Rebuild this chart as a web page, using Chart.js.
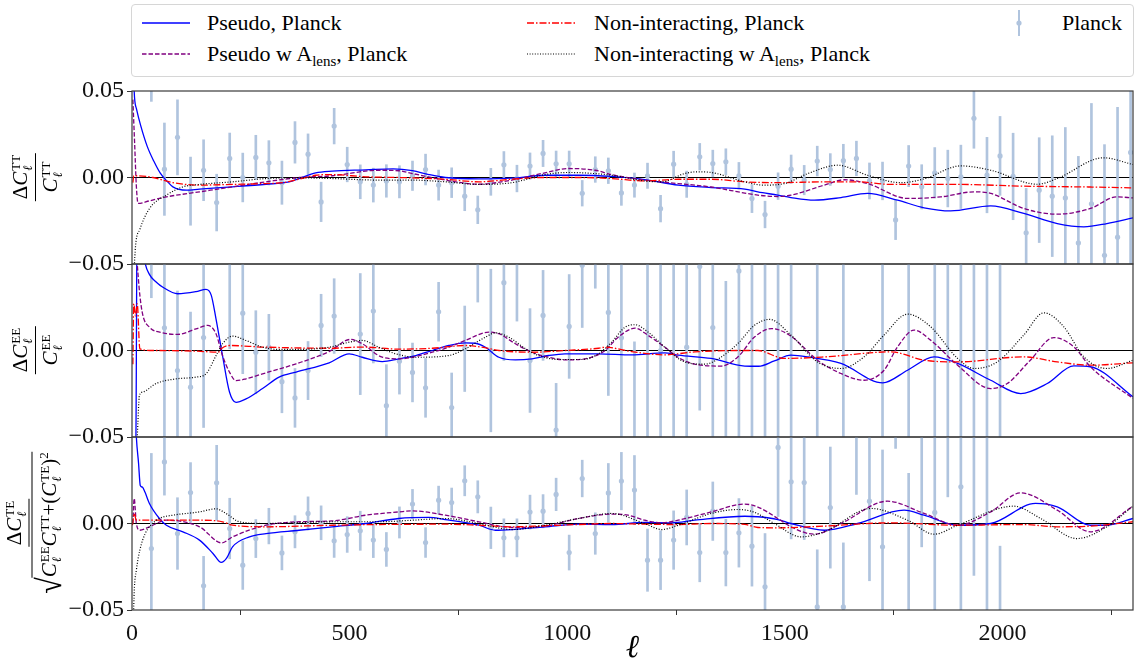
<!DOCTYPE html>
<html><head><meta charset="utf-8">
<script src="https://cdn.jsdelivr.net/npm/chart.js@4/dist/chart.umd.min.js"></script>
<style>
html,body{margin:0;padding:0;background:#fff;}
body{width:1137px;height:664px;position:relative;overflow:hidden;font-family:"Liberation Serif",serif;}
canvas{position:absolute;left:0;}
.legend{position:absolute;left:131px;top:4px;width:1003px;height:73px;border:1px solid #d6d6d6;border-radius:4px;box-sizing:border-box;background:#fff;z-index:2;}
.li{position:absolute;font-size:22px;line-height:22px;white-space:nowrap;color:#000;z-index:3;}
.li sub{font-size:15px;vertical-align:-5px;line-height:0;}
svg.smp{position:absolute;z-index:3;overflow:visible;}
.ylab{position:absolute;transform:translate(-50%,-50%) rotate(-90deg);font-size:21px;color:#000;white-space:nowrap;z-index:3;}
.frac{display:inline-flex;flex-direction:column;align-items:center;}
.num{border-bottom:1.3px solid #000;padding:0 2px 1px;}
.den{padding:2px 2px 0;}
.C{font-style:italic;}
.ss{display:inline-block;font-size:13px;line-height:12px;vertical-align:-5px;margin-left:1px;}
.ss span{display:block;}
.ss .l{font-style:italic;}
.sq2{font-size:13px;vertical-align:8px;}
.rad{font-size:30px;vertical-align:-4px;display:inline-block;transform:scaleY(1.15);}
.under{display:inline-block;border-top:1.3px solid #000;padding-top:3px;}
</style>
</head><body>

<div class="legend"></div>
<svg class="smp" style="left:140px;top:13px" width="52" height="20"><line x1="2" y1="10" x2="50" y2="10" stroke="#0000ff" stroke-width="1.5"/></svg>
<div class="li" style="left:207px;top:12px">Pseudo, Planck</div>
<svg class="smp" style="left:140px;top:44px" width="52" height="20"><line x1="2" y1="10" x2="50" y2="10" stroke="#800080" stroke-width="1.5" stroke-dasharray="4.5,2"/></svg>
<div class="li" style="left:207px;top:43px">Pseudo w A<sub>lens</sub>, Planck</div>
<svg class="smp" style="left:525px;top:13px" width="52" height="20"><line x1="2" y1="10" x2="50" y2="10" stroke="#ff0000" stroke-width="1.5" stroke-dasharray="7,2,1.5,2"/></svg>
<div class="li" style="left:594px;top:12px">Non-interacting, Planck</div>
<svg class="smp" style="left:525px;top:44px" width="52" height="20"><line x1="2" y1="10" x2="50" y2="10" stroke="#000" stroke-width="1.2" stroke-dasharray="1,1.6"/></svg>
<div class="li" style="left:594px;top:43px">Non-interacting w A<sub>lens</sub>, Planck</div>
<svg class="smp" style="left:1009px;top:9px" width="20" height="30"><line x1="10" y1="1" x2="10" y2="27" stroke="#b0c4de" stroke-width="2"/><circle cx="10" cy="14" r="2.6" fill="#b0c4de"/></svg>
<div class="li" style="left:1062px;top:12px">Planck</div>

<div class="ylab" style="left:36px;top:177px"><div class="frac"><div class="num">Δ<span class="C">C</span><span class="ss"><span>TT</span><span class="l">ℓ</span></span></div><div class="den"><span class="C">C</span><span class="ss"><span>TT</span><span class="l">ℓ</span></span></div></div></div>
<div class="ylab" style="left:36px;top:350px"><div class="frac"><div class="num">Δ<span class="C">C</span><span class="ss"><span>EE</span><span class="l">ℓ</span></span></div><div class="den"><span class="C">C</span><span class="ss"><span>EE</span><span class="l">ℓ</span></span></div></div></div>
<div class="ylab" style="left:34px;top:523px"><div class="frac"><div class="num">Δ<span class="C">C</span><span class="ss"><span>TE</span><span class="l">ℓ</span></span></div><div class="den"><span class="rad">√</span><span class="under"><span class="C">C</span><span class="ss"><span>EE</span><span class="l">ℓ</span></span><span class="C">C</span><span class="ss"><span>TT</span><span class="l">ℓ</span></span>+(<span class="C">C</span><span class="ss"><span>TE</span><span class="l">ℓ</span></span>)<span class="sq2">2</span></span></div></div></div>

<canvas id="cTT" width="1137" height="213" style="top:71px"></canvas>
<canvas id="cEE" width="1137" height="213" style="top:244px"></canvas>
<canvas id="cTE" width="1137" height="255" style="top:417px"></canvas>

<script>
// ---------------- data ----------------
const xTicks = [0, 500, 1000, 1500, 2000];
const yTicks = [-0.05, 0, 0.05];

const planckL = [44.5, 74.5, 104.5, 134.5, 164.5, 194.5, 224.5, 254.5, 284.5, 314.5, 344.5, 374.5, 404.5, 434.5, 464.5, 494.5, 524.5, 554.5, 584.5, 614.5, 644.5, 674.5, 704.5, 734.5, 764.5, 794.5, 824.5, 854.5, 884.5, 914.5, 944.5, 974.5, 1004.5, 1034.5, 1064.5, 1094.5, 1124.5, 1154.5, 1184.5, 1214.5, 1244.5, 1274.5, 1304.5, 1334.5, 1364.5, 1394.5, 1424.5, 1454.5, 1484.5, 1514.5, 1544.5, 1574.5, 1604.5, 1634.5, 1664.5, 1694.5, 1724.5, 1754.5, 1784.5, 1814.5, 1844.5, 1874.5, 1904.5, 1934.5, 1964.5, 1994.5, 2024.5, 2054.5, 2084.5, 2114.5, 2144.5, 2174.5, 2204.5, 2234.5, 2264.5, 2294.5];

const ttVal = [0.065, 0.0048, 0.0232, -0.0079, 0.0042, -0.0145, 0.011, 0.0, 0.0116, 0.0085, -0.003, 0.0203, 0.0135, -0.0141, 0.0297, 0.0075, -0.0025, -0.0044, -0.002, -0.0025, 0.001, 0.0046, -0.0044, -0.003, -0.0108, -0.0187, -0.0025, 0.0073, -0.0006, 0.0066, 0.0139, 0.0079, 0.0079, -0.0091, 0.0046, 0.0039, -0.0089, -0.0044, 0.001, -0.018, 0.0077, -0.0039, 0.012, 0.0081, 0.0091, 0.001, -0.0122, -0.0214, -0.005, 0.0048, -0.0015, 0.0095, 0.0046, 0.0097, 0.011, -0.002, -0.002, -0.0245, 0.0066, -0.0054, 0.0027, -0.0006, 0.0004, 0.0342, 0.0014, 0.0125, 0.0006, -0.032, -0.0073, -0.0108, -0.0118, -0.0378, -0.0152, -0.045, -0.0345, 0.0145];
const ttErr = [0.021, 0.0267, 0.0217, 0.0197, 0.0176, 0.0164, 0.0147, 0.0141, 0.0128, 0.0128, 0.0125, 0.012, 0.0117, 0.0114, 0.0103, 0.010, 0.0098, 0.0098, 0.0094, 0.0093, 0.0085, 0.0089, 0.0087, 0.0086, 0.0084, 0.008, 0.0078, 0.0077, 0.0077, 0.0076, 0.0076, 0.0074, 0.0074, 0.0074, 0.0074, 0.0074, 0.0072, 0.007, 0.0073, 0.0077, 0.0075, 0.0076, 0.0077, 0.0077, 0.0075, 0.0077, 0.0081, 0.0077, 0.0077, 0.0082, 0.0085, 0.0086, 0.0092, 0.0095, 0.010, 0.0104, 0.0109, 0.0114, 0.0119, 0.0128, 0.0146, 0.0164, 0.0183, 0.0173, 0.0218, 0.0228, 0.025, 0.0257, 0.0303, 0.0349, 0.0407, 0.05, 0.058, 0.064, 0.075, 0.08];

const eeVal = [0.07, 0.0131, -0.0116, -0.0212, 0.0075, -0.1, 0.055, 0.0216, -0.001, 0.0019, -0.018, -0.0274, -0.0116, 0.0145, 0.0199, 0.08, 0.0095, 0.0228, -0.0319, -0.0062, -0.0127, -0.0216, 0.0224, -0.033, 0.001, 0.06, 0.0, 0.0392, 0.06, -0.0058, 0.0203, -0.046, 0.0139, 0.0493, 0.07, 0.022, 0.0073, -0.06, 0.06, 0.0, 0.06, 0.0019, 0.0485, 0.0133, -0.06, 0.046, 0.07, 0.07, -0.07, 0.07, 0.25, -0.07, -0.25, 0.07, 0.25, -0.25, -0.08, 0.3, 0.08, -0.3, 0.08, -0.08, 0.09, -0.09, 0.09, -0.09, 0.35, -0.35, 0.35, -0.35, 0.35, -0.35, 0.35, -0.35, 0.35, -0.35];
const eeErr = [0.0395, 0.07, 0.046, 0.0434, 0.052, 0.04, 0.054, 0.035, 0.024, 0.019, 0.018, 0.017, 0.0168, 0.018, 0.0216, 0.025, 0.035, 0.03, 0.0237, 0.019, 0.017, 0.017, 0.017, 0.02, 0.0247, 0.032, 0.047, 0.045, 0.043, 0.03, 0.026, 0.027, 0.03, 0.036, 0.034, 0.048, 0.07, 0.065, 0.12, 0.07, 0.12, 0.065, 0.083, 0.07, 0.1, 0.1, 0.13, 0.13, 0.13, 0.13, 0.1, 0.14, 0.1, 0.14, 0.12, 0.12, 0.15, 0.12, 0.15, 0.13, 0.16, 0.16, 0.17, 0.17, 0.18, 0.18, 0.2, 0.2, 0.2, 0.2, 0.2, 0.2, 0.2, 0.2, 0.2, 0.2];

const teVal = [-0.0145, 0.0356, -0.0058, 0.0179, -0.036, 0.0235, -0.0029, -0.0241, -0.0087, -0.0015, -0.017, -0.0048, 0.0058, 0.0004, -0.01, -0.0064, -0.0042, -0.0096, -0.015, 0.0006, 0.0112, -0.011, 0.0135, 0.0121, 0.0247, 0.0154, -0.0025, -0.0083, -0.0083, 0.0066, 0.0071, 0.0168, -0.0168, 0.026, -0.0058, 0.0177, 0.0245, 0.0193, -0.0212, -0.0212, -0.0096, 0.0035, -0.0168, 0.0071, -0.0168, -0.0054, -0.0131, -0.0366, 0.044, 0.0241, 0.0237, -0.0482, 0.0092, -0.0482, 0.06, 0.0129, -0.0135, 0.09, -0.052, 0.055, 0.0064, 0.07, 0.0212, 0.06, 0.07, -0.07, 0.2, -0.2, 0.2, -0.2, 0.2, -0.2, 0.2, -0.2, 0.2, -0.2];
const teErr = [0.055, 0.0192, 0.0207, 0.0173, 0.017, 0.0217, 0.0175, 0.014, 0.011, 0.0103, 0.0098, 0.0093, 0.0096, 0.0098, 0.0096, 0.0103, 0.0113, 0.0101, 0.0098, 0.009, 0.0085, 0.0086, 0.0081, 0.0084, 0.0087, 0.0093, 0.012, 0.011, 0.011, 0.0098, 0.0096, 0.0094, 0.0101, 0.0106, 0.012, 0.017, 0.0166, 0.02, 0.018, 0.017, 0.0169, 0.0159, 0.0169, 0.0169, 0.0193, 0.0198, 0.0231, 0.0308, 0.04, 0.033, 0.033, 0.033, 0.035, 0.037, 0.0432, 0.046, 0.056, 0.0466, 0.081, 0.0685, 0.065, 0.0546, 0.075, 0.09, 0.13, 0.0569, 0.08, 0.08, 0.08, 0.08, 0.08, 0.08, 0.08, 0.08, 0.08, 0.08];

// theory curves: [ell, value]
const ttPseudo = [[2,0.09],[5,0.05],[10,0.04],[20,0.03],[35,0.018],[50,0.0095],[65,0.0025],[80,-0.002],[94,-0.0054],[125,-0.0073],[155,-0.0067],[231,-0.0054],[308,-0.0039],[361,-0.0025],[384,-0.0006],[422,0.0027],[460,0.0037],[537,0.0044],[600,0.005],[644,0.004],[682,0.0017],[720,0.0],[797,-0.0008],[873,-0.0004],[949,0.0013],[1026,0.0013],[1102,0.0006],[1178,-0.0012],[1255,-0.0044],[1331,-0.0058],[1408,-0.0067],[1438,-0.0083],[1484,-0.0102],[1514,-0.0116],[1568,-0.0131],[1629,-0.0116],[1690,-0.0092],[1759,-0.0131],[1820,-0.0175],[1881,-0.0193],[1973,-0.0164],[2049,-0.0208],[2126,-0.0266],[2187,-0.0285],[2240,-0.0266],[2300,-0.0233]];
const ttPseudoAlens = [[2,0.045],[6,0.02],[10,-0.005],[14,-0.015],[40,-0.0135],[79,-0.0112],[155,-0.0083],[231,-0.0054],[308,-0.0025],[384,0.0],[460,0.001],[567,0.0042],[613,0.0039],[644,0.0023],[720,-0.0015],[797,-0.0039],[873,-0.0015],[949,0.0027],[1003,0.0052],[1064,0.0042],[1102,0.0017],[1178,-0.0015],[1255,-0.0035],[1331,-0.0055],[1408,-0.009],[1438,-0.0102],[1484,-0.011],[1514,-0.0102],[1591,-0.0044],[1637,-0.0013],[1690,-0.0035],[1782,-0.0121],[1858,-0.0112],[1935,-0.0083],[1973,-0.0092],[2049,-0.0179],[2126,-0.0212],[2202,-0.0179],[2263,-0.0112],[2300,-0.0118]];
const ttNonint = [[2,-0.003],[4,0.001],[10,0.001],[48,0.0],[94,-0.003],[155,-0.0044],[231,-0.004],[308,-0.0035],[346,-0.003],[384,-0.001],[422,0.0013],[460,0.0017],[537,0.0004],[613,0.0],[720,-0.001],[797,-0.0025],[873,-0.001],[949,0.0],[1026,0.0],[1102,-0.0006],[1178,-0.002],[1255,-0.001],[1331,-0.001],[1408,-0.0025],[1484,-0.003],[1591,-0.0025],[1667,-0.0025],[1743,-0.004],[1897,-0.004],[2049,-0.005],[2202,-0.0055],[2300,-0.006]];
const ttNonintAlens = [[2,-0.07],[8,-0.04],[18,-0.03],[40,-0.018],[79,-0.0102],[117,-0.0054],[155,-0.004],[231,-0.0025],[308,-0.0006],[384,-0.0002],[460,-0.0006],[567,-0.0015],[644,-0.0015],[720,-0.0025],[797,-0.004],[873,-0.003],[949,0.0017],[1003,0.0029],[1102,0.0013],[1178,-0.002],[1217,-0.0025],[1270,0.0023],[1300,0.0033],[1331,0.0029],[1408,-0.0025],[1450,-0.0044],[1499,-0.0035],[1553,0.0023],[1622,0.0071],[1690,0.0013],[1767,-0.003],[1820,-0.0008],[1904,0.0067],[1973,0.0042],[2080,-0.0039],[2126,-0.0006],[2232,0.0114],[2300,0.0075]];

const eePseudo = [[2,-0.09],[9,-0.05],[12,0.09],[29,0.052],[40,0.044],[56,0.0395],[71,0.0366],[105,0.0328],[147,0.034],[170,0.0353],[182,0.032],[193,0.0183],[208,-0.003],[224,-0.024],[239,-0.03],[262,-0.028],[300,-0.022],[338,-0.0154],[377,-0.0125],[453,-0.0071],[499,-0.0019],[529,-0.0039],[575,-0.0064],[613,-0.0048],[652,-0.0029],[690,0.0],[728,0.0029],[766,0.0044],[789,0.0042],[812,0.0019],[843,-0.0039],[881,-0.0054],[919,-0.0048],[957,-0.0029],[995,-0.0019],[1072,-0.0019],[1148,-0.0025],[1224,-0.0014],[1255,-0.0027],[1331,-0.0046],[1408,-0.009],[1440,-0.0091],[1476,-0.006],[1514,-0.0027],[1553,-0.0037],[1629,-0.0075],[1725,-0.0187],[1782,-0.0114],[1843,-0.0037],[1897,-0.0075],[1973,-0.0172],[2042,-0.0249],[2103,-0.0191],[2164,-0.0089],[2202,-0.0094],[2300,-0.0268]];
const eePseudoAlens = [[2,0.09],[6,0.07],[12,0.05],[18,0.032],[25,0.0203],[40,0.0135],[71,0.0102],[105,0.0093],[147,0.0125],[174,0.0145],[193,0.0097],[208,-0.003],[224,-0.0125],[239,-0.0174],[262,-0.0164],[300,-0.0135],[377,-0.0077],[453,-0.0006],[502,0.0064],[529,0.0039],[575,-0.0039],[613,-0.0048],[690,-0.001],[728,0.0019],[766,0.0058],[820,0.0106],[843,0.0097],[881,0.0039],[919,-0.001],[957,-0.0039],[995,-0.0054],[1041,-0.0048],[1087,0.0],[1117,0.0077],[1156,0.0129],[1186,0.0087],[1224,0.002],[1255,-0.004],[1293,-0.0079],[1354,-0.009],[1392,-0.0037],[1431,0.0079],[1470,0.0127],[1514,0.0083],[1575,-0.0056],[1629,-0.0133],[1682,-0.0172],[1728,-0.0114],[1759,0.0021],[1797,0.0118],[1835,0.006],[1897,-0.0085],[1973,-0.022],[2011,-0.0191],[2064,-0.0056],[2118,0.0075],[2164,0.0021],[2202,-0.0094],[2300,-0.0277]];
const eeNonint = [[2,-0.008],[4,0.027],[8,0.02],[12,0.027],[18,0.001],[50,0.0],[150,-0.0004],[199,-0.001],[205,0.001],[224,0.0029],[300,0.002],[453,0.0013],[529,0.002],[613,0.0008],[690,0.0013],[766,0.0029],[804,0.0019],[843,0.0],[919,-0.001],[995,0.0],[1072,0.0013],[1087,0.0019],[1148,-0.0006],[1224,-0.0025],[1293,-0.0008],[1392,0.0],[1438,0.0],[1499,-0.0046],[1591,-0.0037],[1744,-0.0008],[1820,-0.0056],[1897,-0.0066],[2049,-0.0037],[2126,-0.0066],[2202,-0.0085],[2300,-0.0071]];
const eeNonintAlens = [[2,-0.08],[12,-0.05],[17,-0.026],[25,-0.024],[56,-0.019],[101,-0.0164],[147,-0.0154],[170,-0.0135],[193,-0.003],[208,0.0039],[231,0.0083],[262,0.0058],[300,0.0019],[338,0.0006],[377,0.0006],[453,0.0019],[499,0.0048],[529,0.0058],[567,0.0019],[606,-0.0019],[652,-0.0039],[728,-0.0029],[766,0.001],[812,0.0077],[835,0.0102],[866,0.0077],[904,0.001],[934,-0.0029],[980,-0.0052],[1033,-0.0052],[1072,-0.0019],[1102,0.0048],[1133,0.0135],[1156,0.0149],[1186,0.0106],[1224,0.0019],[1270,-0.0066],[1316,-0.0079],[1354,-0.0037],[1392,0.004],[1431,0.0147],[1465,0.018],[1514,0.0089],[1575,-0.0066],[1629,-0.0104],[1682,-0.0037],[1728,0.0089],[1782,0.021],[1835,0.0137],[1897,-0.0046],[1935,-0.0104],[1988,-0.0066],[2049,0.0089],[2095,0.0218],[2141,0.0137],[2187,-0.0037],[2240,-0.0104],[2300,-0.0056]];

const tePseudo = [[2,0.1],[10,0.05],[15,0.035],[19,0.022],[24,0.021],[30,0.018],[40,0.0116],[63,0.0029],[79,-0.001],[117,-0.0048],[155,-0.0096],[186,-0.0173],[205,-0.0225],[217,-0.0202],[231,-0.0135],[270,-0.0077],[308,-0.0058],[384,-0.0039],[460,-0.0019],[537,0.0],[613,0.0029],[682,0.0035],[720,0.0023],[797,-0.001],[835,-0.0039],[873,-0.0035],[949,-0.0019],[1026,-0.0004],[1102,-0.0006],[1178,0.0006],[1240,0.0004],[1293,0.0019],[1408,0.0042],[1438,0.0039],[1484,0.0023],[1514,0.0],[1591,-0.0039],[1667,0.0],[1774,0.0077],[1820,0.0048],[1897,-0.001],[1973,0.0],[2076,0.0116],[2126,0.0096],[2202,-0.001],[2240,-0.001],[2300,0.0029]];
const tePseudoAlens = [[2,0.0],[5,0.0145],[10,0.0],[18,-0.0039],[40,-0.0019],[79,0.0019],[155,-0.0019],[206,-0.0112],[231,-0.0077],[308,-0.001],[384,0.001],[460,0.0015],[537,0.0048],[613,0.0067],[644,0.0073],[720,0.0048],[797,0.001],[873,-0.0023],[949,-0.0015],[1026,0.0029],[1102,0.0054],[1140,0.0048],[1178,0.0019],[1217,0.0004],[1255,0.0019],[1331,0.0067],[1408,0.0112],[1438,0.0095],[1484,0.0029],[1514,-0.0019],[1568,-0.0062],[1629,0.0],[1736,0.0129],[1820,0.0058],[1897,-0.001],[1973,0.0067],[2042,0.0177],[2126,0.0077],[2202,-0.0048],[2300,0.01]];
const teNonint = [[1,-0.001],[5,0.0058],[10,0.0019],[155,0.0019],[208,0.001],[231,-0.001],[308,-0.0019],[460,-0.001],[567,-0.0006],[720,-0.0004],[797,-0.001],[873,-0.0019],[949,-0.0013],[1026,-0.0006],[1102,0.0],[1178,-0.0004],[1255,-0.0006],[1331,0.0],[1408,-0.0005],[1438,-0.0023],[1484,-0.0025],[1591,-0.0015],[1743,0.0004],[1897,-0.001],[2049,-0.0006],[2126,-0.0019],[2202,-0.0015],[2300,0.001]];
const teNonintAlens = [[2,-0.07],[5,-0.04],[10,-0.027],[18,-0.0154],[30,-0.006],[40,-0.0019],[63,0.0029],[94,0.0048],[155,0.0067],[193,0.0085],[216,0.0058],[247,0.001],[308,0.0],[460,0.001],[567,0.001],[644,0.0019],[720,0.0029],[797,0.0],[873,-0.0035],[949,-0.001],[1026,0.0029],[1102,0.0058],[1178,0.0],[1217,-0.0035],[1255,-0.001],[1331,0.0058],[1392,0.0081],[1430,0.0065],[1476,0.0],[1537,-0.0077],[1591,-0.0048],[1698,0.0087],[1782,0.0019],[1843,-0.0062],[1897,-0.001],[2026,0.01],[2088,0.0029],[2171,-0.0087],[2240,-0.0019],[2300,0.01]];

// ---------------- drawing ----------------
const FONT = '"Liberation Serif", "DejaVu Serif", serif';
const BAR_COLOR = '#b0c4de';

const framePlugin = {
  id: 'frame',
  afterDatasetsDraw(chart) {
    const a = chart.chartArea, ctx = chart.ctx;
    ctx.save();
    ctx.strokeStyle = '#3a3a3a';
    ctx.lineWidth = 1.2;
    ctx.strokeRect(a.left, a.top, a.right - a.left, a.bottom - a.top);
    ctx.restore();
  }
};

function fmtY(v, showTop) {
  if (!showTop && v > 0.04) return '';
  if (Math.abs(v) < 1e-9) return '0.00';
  return (v < 0 ? '\u2212' : '') + Math.abs(v).toFixed(2);
}

function lineDS(arr, color, dash, order, width) {
  return {
    type: 'line', data: arr.map(p => ({x: p[0], y: p[1]})),
    borderColor: color, borderWidth: width, borderDash: dash,
    pointRadius: 0, fill: false, cubicInterpolationMode: 'monotone',
    clip: 0, order: order
  };
}

function makePanel(id, curves, vals, errs, showTop, isBottom) {
  const datasets = [
    {type: 'bar', data: planckL.map((l, i) => ({x: l, y: [vals[i] - errs[i], vals[i] + errs[i]]})),
     backgroundColor: BAR_COLOR, borderWidth: 0, barThickness: 2, grouped: false, clip: 0, order: 10},
    {type: 'line', data: planckL.map((l, i) => ({x: l, y: vals[i]})), showLine: false,
     pointRadius: 2.6, pointBackgroundColor: BAR_COLOR, pointBorderWidth: 0, clip: 0, order: 9},
    lineDS(curves[0], '#0000ff', [], 4, 1.3),
    lineDS(curves[1], '#800080', [4.5, 2], 3, 1.3),
    lineDS(curves[2], '#ff0000', [7, 2, 1.5, 2], 2, 1.3),
    lineDS(curves[3], '#000000', [1, 1.7], 1, 1.2)
  ];
  return new Chart(document.getElementById(id), {
    type: 'line',
    data: {datasets},
    options: {
      responsive: false, animation: false, devicePixelRatio: 1, events: [],
      layout: {padding: {top: 20, bottom: isBottom ? 0 : 20, left: 0, right: 1}},
      plugins: {legend: {display: false}, tooltip: {enabled: false}},
      scales: {
        x: {
          type: 'linear', min: 0, max: 2300, offset: false, display: isBottom,
          afterBuildTicks: s => { s.ticks = xTicks.map(v => ({value: v})); },
          afterFit: s => { s.height = isBottom ? 62 : 0; },
          grid: {drawOnChartArea: false, drawTicks: true, tickLength: 5, tickColor: '#333', tickWidth: 1},
          border: {display: false},
          ticks: {font: {family: FONT, size: 24}, color: '#111', padding: 4, maxRotation: 0, autoSkip: false,
                  callback: v => String(v)},
          title: {display: true, text: 'ℓ', font: {family: FONT, size: 32, style: 'italic'}, color: '#000',
                  padding: {top: 0, bottom: 4}}
        },
        y: {
          type: 'linear', min: -0.05, max: 0.05,
          afterBuildTicks: s => { s.ticks = yTicks.map(v => ({value: v})); },
          afterFit: s => { s.width = 132; },
          grid: {color: c => (c.tick && Math.abs(c.tick.value) < 1e-9) ? '#000' : 'rgba(0,0,0,0)',
                 lineWidth: 1, drawTicks: true, tickLength: 5, tickColor: '#333', tickWidth: 1},
          border: {display: false},
          ticks: {font: {family: FONT, size: 24}, color: '#111', padding: 3, callback: v => fmtY(v, showTop)}
        }
      }
    },
    plugins: [framePlugin]
  });
}

makePanel('cTT', [ttPseudo, ttPseudoAlens, ttNonint, ttNonintAlens], ttVal, ttErr, true, false);
makePanel('cEE', [eePseudo, eePseudoAlens, eeNonint, eeNonintAlens], eeVal, eeErr, false, false);
makePanel('cTE', [tePseudo, tePseudoAlens, teNonint, teNonintAlens], teVal, teErr, false, true);
</script>
</body></html>
